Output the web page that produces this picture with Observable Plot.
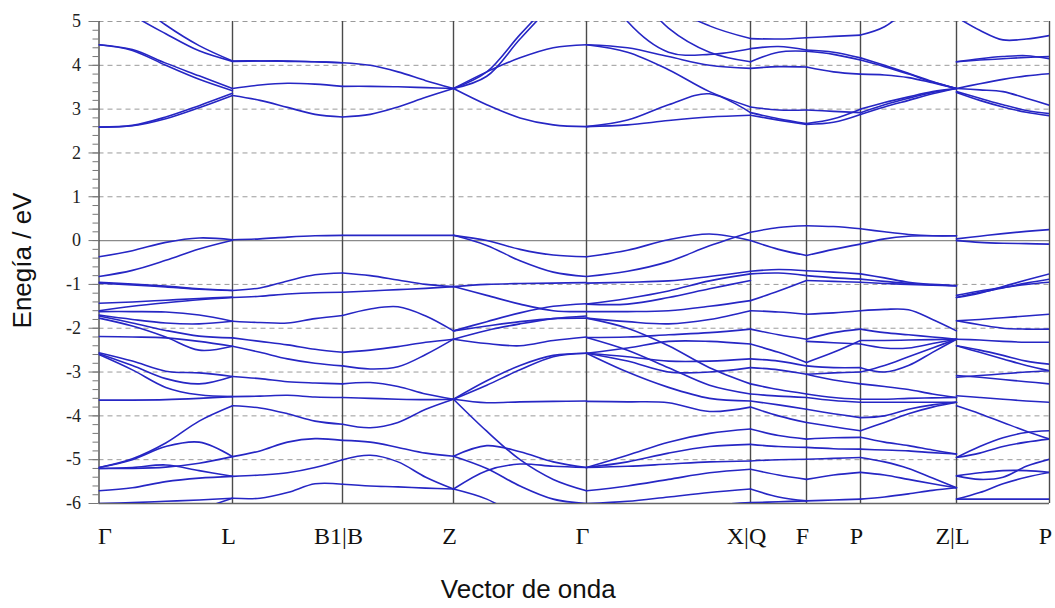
<!DOCTYPE html>
<html>
<head>
<meta charset="utf-8">
<script src="https://cdn.jsdelivr.net/npm/d3@7"></script>
<script src="https://cdn.jsdelivr.net/npm/@observablehq/plot@0.6"></script>
<style>
  html, body { margin: 0; padding: 0; background: #fff; }
  svg { display: block; }
</style>
</head>
<body>
<div id="chart"></div>
<script>
// High-symmetry points along the k-path
const kTicks = [0, 133.5, 243.5, 354.5, 487.5, 651.5, 707.5, 761.5, 857.5, 950.5];
const kLabels = ["Γ", "L", "B1|B", "Z", "Γ", "X|Q", "F", "P", "Z|L", "P"];
const eTicks = [-6, -5, -4, -3, -2, -1, 0, 1, 2, 3, 4, 5];
const eMinor = d3.range(-6, 5.0001, 0.2).map(d => Math.round(d * 10) / 10);

// Band energies (eV) sampled evenly along each path segment
const segGL = [
  [5.7, 5.15, 4.72, 4.33, 4.09],
  [6.2, 5.5, 4.92, 4.45, 4.1],
  [4.47, 4.36, 4.05, 3.76, 3.47],
  [4.47, 4.34, 4.0, 3.68, 3.42],
  [2.59, 2.63, 2.82, 3.08, 3.36],
  [2.59, 2.62, 2.78, 3.03, 3.31],
  [-0.37, -0.23, -0.04, 0.06, 0.02],
  [-0.82, -0.68, -0.45, -0.19, 0.01],
  [-0.95, -0.99, -1.04, -1.1, -1.14],
  [-0.97, -1.01, -1.06, -1.11, -1.14],
  [-1.43, -1.4, -1.36, -1.32, -1.29],
  [-1.6, -1.5, -1.42, -1.35, -1.3],
  [-1.62, -1.62, -1.63, -1.7, -1.84],
  [-1.7, -1.8, -1.88, -1.9, -1.84],
  [-1.72, -1.88, -2.05, -2.18, -2.22],
  [-1.77, -1.95, -2.2, -2.5, -2.41],
  [-2.19, -2.2, -2.22, -2.3, -2.41],
  [-2.56, -2.75, -2.98, -3.02, -3.1],
  [-2.58, -2.85, -3.15, -3.27, -3.1],
  [-2.6, -2.95, -3.35, -3.52, -3.56],
  [-3.64, -3.64, -3.63, -3.6, -3.56],
  [-5.18, -4.98, -4.62, -4.12, -3.77],
  [-5.18, -5.0, -4.7, -4.6, -4.93],
  [-5.2, -5.2, -5.17, -5.08, -4.93],
  [-5.2, -5.18, -5.12, -5.25, -5.38],
  [-5.71, -5.64, -5.5, -5.42, -5.38],
  [-6.0, -5.98, -5.95, -5.92, -5.88],
  [-7.0, -6.8, -6.5, -6.15, -5.88]
];
const segLB = [
  [4.09, 4.1, 4.1, 4.08, 4.06],
  [4.1, 4.1, 4.09, 4.08, 4.06],
  [3.47, 3.55, 3.59, 3.57, 3.52],
  [3.31, 3.2, 3.04, 2.88, 2.82],
  [0.02, 0.04, 0.08, 0.11, 0.12],
  [-1.14, -1.08, -0.92, -0.78, -0.74],
  [-1.3, -1.27, -1.22, -1.19, -1.18],
  [-1.84, -1.87, -1.88, -1.78, -1.71],
  [-2.22, -2.3, -2.38, -2.48, -2.55],
  [-2.41, -2.55, -2.7, -2.8, -2.86],
  [-3.1, -3.15, -3.22, -3.25, -3.27],
  [-3.56, -3.55, -3.53, -3.57, -3.58],
  [-3.77, -3.82, -3.95, -4.12, -4.19],
  [-4.93, -4.8, -4.6, -4.52, -4.56],
  [-5.38, -5.35, -5.3, -5.18, -5.0],
  [-5.88, -5.88, -5.75, -5.55, -5.56]
];
const segBZ = [
  [4.06, 4.0, 3.85, 3.65, 3.47],
  [3.52, 3.52, 3.51, 3.49, 3.47],
  [2.82, 2.88, 3.05, 3.27, 3.47],
  [0.12, 0.12, 0.12, 0.12, 0.12],
  [-0.74, -0.8, -0.9, -1.0, -1.05],
  [-1.18, -1.15, -1.12, -1.09, -1.05],
  [-1.71, -1.56, -1.51, -1.72, -2.06],
  [-2.55, -2.5, -2.42, -2.32, -2.25],
  [-2.86, -2.93, -2.88, -2.6, -2.25],
  [-3.27, -3.24, -3.33, -3.5, -3.62],
  [-3.58, -3.6, -3.62, -3.63, -3.62],
  [-4.19, -4.27, -4.15, -3.85, -3.62],
  [-4.56, -4.6, -4.72, -4.85, -4.92],
  [-5.0, -4.9, -5.05, -5.4, -5.67],
  [-5.56, -5.6, -5.62, -5.65, -5.67]
];
const segZG = [
  [3.47, 3.75, 4.6, 5.4, 6.1],
  [3.47, 3.85, 4.7, 5.5, 6.3],
  [3.47, 3.85, 4.17, 4.4, 4.47],
  [3.47, 3.1, 2.8, 2.64, 2.6],
  [0.12, 0.0, -0.2, -0.33, -0.37],
  [0.12, -0.11, -0.46, -0.72, -0.82],
  [-1.05, -1.0, -0.98, -0.97, -0.96],
  [-1.05, -1.25, -1.45, -1.6, -1.62],
  [-2.06, -1.85, -1.65, -1.5, -1.44],
  [-2.06, -1.95, -1.85, -1.78, -1.77],
  [-2.25, -2.35, -2.4, -2.28, -2.2],
  [-2.25, -2.05, -1.9, -1.78, -1.72],
  [-3.62, -3.3, -2.95, -2.65, -2.57],
  [-3.62, -3.2, -2.85, -2.62, -2.57],
  [-3.62, -3.7, -3.68, -3.67, -3.66],
  [-3.62, -4.35, -5.0, -5.45, -5.71],
  [-4.92, -4.68, -4.82, -5.05, -5.18],
  [-5.67, -5.25, -5.1, -5.15, -5.18],
  [-4.92, -5.2, -5.6, -5.9, -6.0],
  [-5.67, -5.9, -6.3, -6.6, -6.8]
];
const segGX = [
  [7.5, 6.5, 5.4, 4.9, 4.61],
  [6.5, 5.0, 4.3, 4.25, 4.38],
  [7.0, 5.9, 4.85, 4.3, 4.08],
  [4.47, 4.4, 4.2, 4.0, 3.93],
  [4.47, 4.3, 3.9, 3.4, 3.05],
  [2.6, 2.75, 3.1, 3.35, 2.92],
  [2.6, 2.64, 2.74, 2.82, 2.86],
  [-0.37, -0.22, 0.02, 0.15, 0.0],
  [-0.82, -0.7, -0.48, -0.12, 0.19],
  [-0.97, -0.95, -0.92, -0.82, -0.7],
  [-1.45, -1.32, -1.15, -0.92, -0.76],
  [-1.45, -1.45, -1.3, -1.1, -0.91],
  [-1.62, -1.62, -1.6, -1.5, -1.37],
  [-1.77, -1.85, -1.9, -1.8, -1.6],
  [-2.21, -2.2, -2.15, -2.1, -2.02],
  [-2.57, -2.45, -2.3, -2.3, -2.36],
  [-2.57, -2.65, -2.75, -2.75, -2.7],
  [-2.57, -2.75, -3.0, -3.0, -2.9],
  [-1.77, -2.0, -2.4, -2.9, -3.27],
  [-2.21, -2.5, -2.9, -3.3, -3.5],
  [-3.67, -3.68, -3.7, -3.9, -3.8],
  [-2.57, -3.0, -3.35, -3.6, -3.66],
  [-5.18, -4.9, -4.6, -4.4, -4.3],
  [-5.18, -5.05, -4.85, -4.7, -4.65],
  [-5.18, -5.15, -5.1, -5.05, -5.03],
  [-5.71, -5.6, -5.45, -5.3, -5.22],
  [-6.0, -5.95, -5.85, -5.75, -5.67],
  [-6.5, -6.4, -6.2, -6.05, -5.98]
];
const segQF = [
  [4.61, 4.6, 4.63],
  [4.38, 4.43, 4.35],
  [4.08, 4.3, 4.32],
  [3.93, 3.97, 3.96],
  [3.05, 2.98, 2.98],
  [2.92, 2.78, 2.67],
  [2.86, 2.75, 2.65],
  [0.0, -0.2, -0.34],
  [0.19, 0.3, 0.34],
  [-0.7, -0.66, -0.69],
  [-0.76, -0.74, -0.8],
  [-1.37, -1.15, -0.91],
  [-1.6, -1.63, -1.68],
  [-2.02, -2.15, -2.25],
  [-2.36, -2.55, -2.78],
  [-2.7, -2.75, -2.86],
  [-2.9, -2.95, -3.05],
  [-3.27, -3.4, -3.5],
  [-3.5, -3.55, -3.58],
  [-3.66, -3.75, -3.85],
  [-3.8, -4.0, -4.15],
  [-4.3, -4.45, -4.53],
  [-4.65, -4.7, -4.72],
  [-5.03, -5.0, -4.99],
  [-5.22, -5.35, -5.45],
  [-5.67, -5.85, -5.94],
  [-5.98, -5.96, -5.94]
];
const segFP = [
  [4.63, 4.66, 4.69],
  [4.35, 4.3, 4.17],
  [4.32, 4.25, 4.12],
  [3.96, 3.85, 3.8],
  [2.98, 2.95, 2.92],
  [2.67, 2.78, 3.0],
  [2.65, 2.7, 2.88],
  [-0.34, -0.2, -0.08],
  [0.34, 0.32, 0.27],
  [-0.69, -0.72, -0.76],
  [-0.8, -0.85, -0.88],
  [-0.91, -0.93, -0.95],
  [-1.68, -1.65, -1.6],
  [-2.25, -2.1, -2.02],
  [-2.3, -2.33, -2.36],
  [-2.78, -2.55, -2.28],
  [-2.86, -2.9, -2.9],
  [-3.05, -3.02, -3.0],
  [-3.05, -3.18, -3.27],
  [-3.5, -3.58, -3.62],
  [-3.58, -3.65, -3.69],
  [-3.85, -3.95, -4.04],
  [-4.15, -4.25, -4.34],
  [-4.53, -4.5, -4.49],
  [-4.72, -4.75, -4.76],
  [-4.99, -4.97, -4.95],
  [-5.45, -5.35, -5.29],
  [-5.94, -5.92, -5.9]
];
const segPZ = [
  [4.69, 4.88, 5.3, 5.8, 6.3],
  [4.17, 4.0, 3.82, 3.63, 3.47],
  [4.12, 3.97, 3.8, 3.62, 3.47],
  [3.8, 3.78, 3.72, 3.6, 3.47],
  [2.92, 3.1, 3.25, 3.38, 3.47],
  [3.0, 3.15, 3.28, 3.4, 3.47],
  [2.88, 3.05, 3.2, 3.35, 3.47],
  [-0.08, 0.04, 0.1, 0.11, 0.11],
  [0.27, 0.2, 0.14, 0.11, 0.11],
  [-0.76, -0.85, -0.95, -1.0, -1.03],
  [-0.88, -0.93, -0.98, -1.01, -1.03],
  [-0.95, -0.98, -1.0, -1.02, -1.03],
  [-1.6, -1.57, -1.58, -1.8, -2.06],
  [-2.02, -2.1, -2.15, -2.2, -2.25],
  [-2.28, -2.28, -2.27, -2.26, -2.25],
  [-2.36, -2.45, -2.45, -2.35, -2.25],
  [-2.9, -3.0, -2.85, -2.55, -2.25],
  [-3.0, -2.85, -2.65, -2.45, -2.25],
  [-3.27, -3.33, -3.4, -3.5, -3.58],
  [-3.62, -3.62, -3.6, -3.59, -3.58],
  [-3.69, -3.69, -3.69, -3.69, -3.69],
  [-4.34, -4.15, -3.95, -3.8, -3.69],
  [-4.04, -4.0, -3.85, -3.75, -3.69],
  [-4.49, -4.6, -4.68, -4.78, -4.87],
  [-4.76, -4.78, -4.8, -4.84, -4.87],
  [-4.95, -5.05, -5.2, -5.42, -5.64],
  [-5.29, -5.35, -5.45, -5.55, -5.64],
  [-5.9, -5.85, -5.78, -5.7, -5.64]
];
const segLP = [
  [5.1, 4.8, 4.58, 4.6, 4.68],
  [4.08, 4.15, 4.2, 4.22, 4.15],
  [4.08, 4.12, 4.15, 4.18, 4.2],
  [3.47, 3.58, 3.68, 3.76, 3.81],
  [3.47, 3.44, 3.4, 3.25, 3.09],
  [3.4, 3.25, 3.1, 2.97, 2.9],
  [3.38, 3.2, 3.05, 2.93, 2.85],
  [0.04, 0.1, 0.16, 0.21, 0.25],
  [0.0, -0.04, -0.06, -0.07, -0.08],
  [-1.3, -1.2, -1.05, -0.9, -0.76],
  [-1.3, -1.18, -1.08, -0.97, -0.88],
  [-1.25, -1.15, -1.07, -1.0, -0.95],
  [-1.83, -1.8, -1.76, -1.72, -1.68],
  [-1.83, -1.92, -2.0, -2.02, -2.02],
  [-2.25, -2.27, -2.3, -2.32, -2.32],
  [-2.4, -2.55, -2.7, -2.85, -2.97],
  [-2.4, -2.5, -2.62, -2.75, -2.82],
  [-3.08, -3.12, -3.17, -3.22, -3.27],
  [-3.12, -3.08, -3.04, -3.0, -2.97],
  [-3.54, -3.58, -3.62, -3.66, -3.69],
  [-3.77, -3.95, -4.15, -4.35, -4.53],
  [-4.95, -4.7, -4.5, -4.38, -4.34],
  [-4.95, -4.85, -4.7, -4.6, -4.53],
  [-5.37, -5.45, -5.4, -5.15, -4.99],
  [-5.37, -5.3, -5.25, -5.25, -5.29],
  [-5.9, -5.9, -5.9, -5.9, -5.9],
  [-5.9, -5.75, -5.55, -5.4, -5.29]
];

const segments = [segGL, segLB, segBZ, segZG, segGX, segQF, segFP, segPZ, segLP];

const rows = segments.flatMap((seg, i) =>
  seg.flatMap((band, j) =>
    band.map((e, m) => ({
      k: kTicks[i] + (kTicks[i + 1] - kTicks[i]) * m / (band.length - 1),
      e,
      id: i + "-" + j
    }))
  )
);

const labelRows = kTicks.map((k, i) => ({ k, label: kLabels[i], first: i === 0 }));

const serif = "'Liberation Serif', 'DejaVu Serif', serif";
const sans = "'Liberation Sans', Arial, sans-serif";

const chart = Plot.plot({
  width: 1055,
  height: 608,
  marginLeft: 98.5,
  marginRight: 6,
  marginTop: 21,
  marginBottom: 105,
  style: { background: "#fff", overflow: "visible" },
  x: { domain: [0, 950.5], axis: null },
  y: { domain: [-6, 5], axis: null },
  marks: [
    Plot.ruleY(eTicks.filter(d => d !== 0 && d !== -6), { stroke: "#9a9a9a", strokeWidth: 1, strokeDasharray: "5,4" }),
    Plot.ruleY([0], { stroke: "#8a8a8a", strokeWidth: 1.2 }),
    Plot.ruleY([-6], { stroke: "#666", strokeWidth: 1.4 }),
    Plot.ruleX(kTicks, { stroke: "#4a4a4a", strokeWidth: 1.4 }),
    Plot.axisY(eMinor, { tickSize: 6, text: null, label: null, stroke: "#777" }),
    Plot.axisY(eTicks, {
      tickSize: 10, tickPadding: 8, label: null, stroke: "#777",
      tickFormat: d => `${d}`, fontFamily: serif, fontSize: 18, fill: "#222"
    }),
    Plot.line(rows, {
      x: "k", y: "e", z: "id", curve: "catmull-rom",
      stroke: "#2626c4", strokeWidth: 1.6, clip: true
    }),
    Plot.text(labelRows.filter(d => d.first), {
      x: "k", text: "label", frameAnchor: "bottom", dy: 40, dx: 6,
      fontFamily: serif, fontSize: 24, fill: "#111"
    }),
    Plot.text(labelRows.filter(d => !d.first), {
      x: "k", text: "label", frameAnchor: "bottom", dy: 40, dx: -4,
      fontFamily: serif, fontSize: 24, fill: "#111"
    }),
    Plot.text(["Vector de onda"], {
      frameAnchor: "bottom", dx: -46, dy: 94, fontFamily: sans, fontSize: 26, fill: "#111"
    }),
    Plot.text(["Enegía / eV"], {
      frameAnchor: "left", textAnchor: "middle", rotate: -90, dx: -76, dy: -2,
      fontFamily: sans, fontSize: 26, fill: "#111"
    })
  ]
});
document.getElementById("chart").appendChild(chart);
</script>
</body>
</html>
